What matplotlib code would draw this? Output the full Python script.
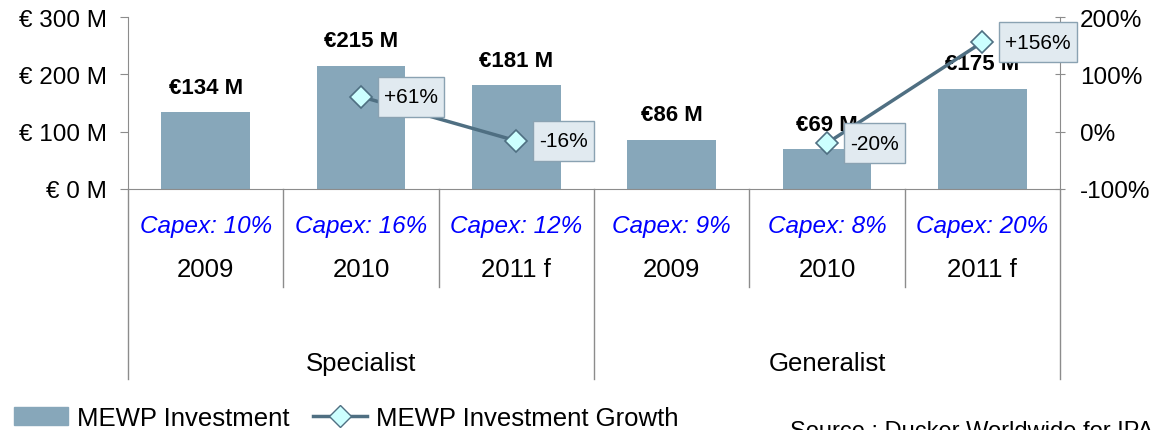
import matplotlib
matplotlib.use("Agg")
import matplotlib.pyplot as plt
from matplotlib.lines import Line2D
from matplotlib.patches import Patch
from matplotlib.path import Path
import numpy as np

plt.rcParams['font.family'] = ['Liberation Sans', 'DejaVu Sans']

groups = ["Specialist", "Generalist"]
years = ["2009", "2010", "2011 f", "2009", "2010", "2011 f"]
capex = ["Capex: 10%", "Capex: 16%", "Capex: 12%", "Capex: 9%", "Capex: 8%", "Capex: 20%"]
investment = [134, 215, 181, 86, 69, 175]
growth = [np.nan, 61, -16, np.nan, -20, 156]
growth_labels = ["", "+61%", "-16%", "", "-20%", "+156%"]

W, H = 1153, 431
fig = plt.figure(figsize=(W / 100, H / 100), dpi=100)
L, R, T, B = 128, 1060, 18, 190
ax = fig.add_axes([L / W, 1 - B / H, (R - L) / W, (B - T) / H])

bar_color = "#87A7BA"
line_color = "#4F6F82"
grid_c = "#8C8C8C"


def label_box(x0, y0, width, height, mutation_size):
    px = 0.28 * mutation_size
    py = 0.5 * mutation_size
    x0, y0 = x0 - px, y0 - py
    x1, y1 = x0 + width + 2 * px, y0 + height + 2 * py
    return Path([(x0, y0), (x1, y0), (x1, y1), (x0, y1), (x0, y0)],
                [Path.MOVETO, Path.LINETO, Path.LINETO, Path.LINETO, Path.CLOSEPOLY])


x = np.arange(len(investment)) + 0.5
ax.bar(x, investment, width=0.57, color=bar_color, zorder=2)
ax.set_xlim(0, 6)
ax.set_ylim(0, 300)
ax.set_yticks([0, 100, 200, 300])
ax.set_yticklabels(["€ 0 M", "€ 100 M", "€ 200 M", "€ 300 M"], fontsize=17.5)
ax.set_xticks([])
for s in ["top", "right"]:
    ax.spines[s].set_visible(False)
for s in ["left", "bottom"]:
    ax.spines[s].set_color(grid_c)
ax.tick_params(axis="y", color=grid_c, length=6, pad=9)

for xi, v in zip(x, investment):
    ax.annotate(f"€{v} M", (xi, v), xytext=(0, 25), textcoords="offset pixels",
                ha="center", va="center", fontsize=16, fontweight="bold", zorder=5)

ax2 = ax.twinx()
ax2.set_ylim(-100, 200)
ax2.set_yticks([-100, 0, 100, 200])
ax2.set_yticklabels(["-100%", "0%", "100%", "200%"], fontsize=17.5)
for s in ["top", "left", "bottom"]:
    ax2.spines[s].set_visible(False)
ax2.spines["right"].set_color(grid_c)
ax2.tick_params(axis="y", color=grid_c, length=7, direction="inout", pad=11)
ax2.plot(x, growth, color=line_color, lw=2.5, marker="D", markersize=11,
         markerfacecolor="#CCFFFF", markeredgecolor=line_color, markeredgewidth=1.2, zorder=4)
for xi, g, lab in zip(x, growth, growth_labels):
    if lab:
        ax2.annotate(lab, (xi, g), xytext=(23, 0), textcoords="offset pixels",
                     ha="left", va="center", fontsize=15, zorder=6,
                     bbox=dict(boxstyle=label_box, fc="#E1EAF0", ec="#8AA2B2", lw=1))

# category axis lines below
tr = ax.get_xaxis_transform()
h = B - T
y_year = -(288 - B) / h
y_grp = -(380 - B) / h
for xb in [1, 2, 4, 5]:
    ax.add_line(Line2D([xb, xb], [0, y_year], transform=tr, color=grid_c, lw=1, clip_on=False))
for xb in [0, 3, 6]:
    ax.add_line(Line2D([xb, xb], [0, y_grp], transform=tr, color=grid_c, lw=1, clip_on=False))
for xi, c, yr in zip(x, capex, years):
    ax.text(xi, -(227 - B) / h, c, transform=tr, ha="center", va="center",
            fontsize=17.5, style="italic", color="#0000FF")
    ax.text(xi, -(270 - B) / h, yr, transform=tr, ha="center", va="center", fontsize=18.5)
for gi, g in enumerate(groups):
    ax.text(1.5 + 3 * gi, -(364 - B) / h, g, transform=tr, ha="center", va="center", fontsize=18.5)

handles = [Patch(color=bar_color),
           Line2D([], [], color=line_color, lw=2.5, marker="D", markersize=11,
                  markerfacecolor="#CCFFFF", markeredgecolor=line_color)]
fig.legend(handles, ["MEWP Investment", "MEWP Investment Growth"], loc="center left",
           bbox_to_anchor=(14 / W, 1 - 419 / H), ncol=2, frameon=False, fontsize=18.5,
           handlelength=2.1, handleheight=0.7, handletextpad=0.35, columnspacing=0.9,
           borderaxespad=0, borderpad=0)

fig.text(790 / W, 1 - 421 / H, "Source : Ducker Worldwide for IPAF", ha="left", va="top", fontsize=17)

fig.savefig("out.png", dpi=100)
